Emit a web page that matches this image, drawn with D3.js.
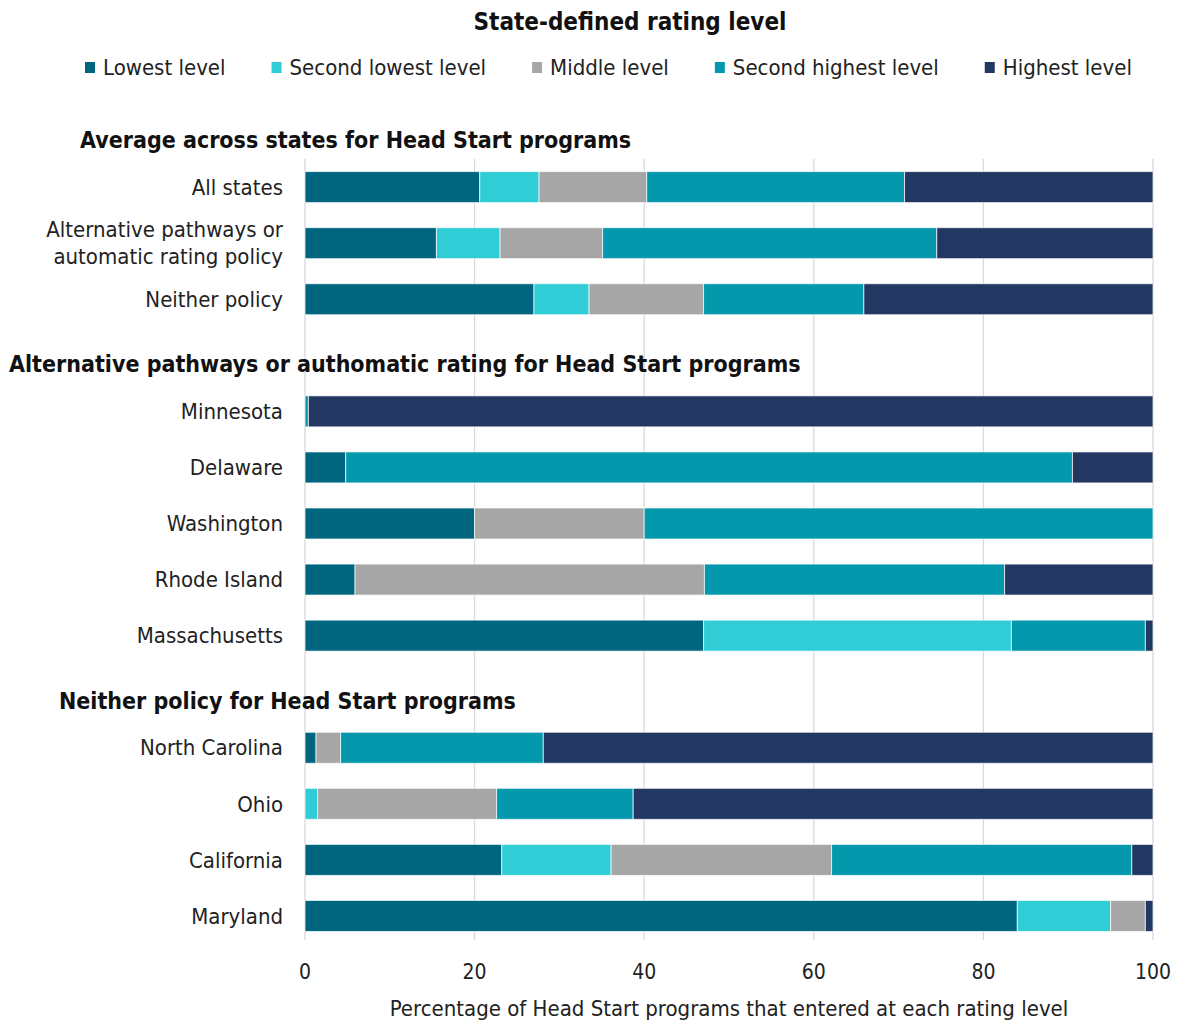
<!DOCTYPE html>
<html>
<head>
<meta charset="utf-8">
<script src="https://cdn.jsdelivr.net/npm/d3@7"></script>
<style>
  body { margin: 0; background: #fff; }
  svg text { font-family: "Liberation Sans Narrow", "DejaVu Sans Condensed", "Roboto Condensed", sans-serif; fill: #222; }
</style>
</head>
<body>
<div id="vis"></div>
<script>
// rating levels (stack order, left to right)
const levels = ["Lowest level", "Second lowest level", "Middle level", "Second highest level", "Highest level"]
const levelColors = ["#00667f", "#31cdd7", "#a6a6a6", "#0398ab", "#223863"]

// rows top to bottom, headers take a blank slot
const rows = ["h1", "All states", "Alternative pathways", "Neither policy",
  "h2", "Minnesota", "Delaware", "Washington", "Rhode Island", "Massachusetts",
  "h3", "North Carolina", "Ohio", "California", "Maryland"]

const headers = {
  h1: "Average across states for Head Start programs",
  h2: "Alternative pathways or authomatic rating for Head Start programs",
  h3: "Neither policy for Head Start programs"
}

// row labels (some wrap on two lines)
const rowLabels = {
  "Alternative pathways": ["Alternative pathways or", "automatic rating policy"]
}

// percentages per level, same order as levels
const allStates = [20.6, 7.0, 12.7, 30.4, 29.3]
const altPathways = [15.5, 7.5, 12.1, 39.4, 25.5]
const neitherPolicy = [27.0, 6.5, 13.5, 18.9, 34.1]
const minnesota = [0, 0, 0, 0.4, 99.6]
const delaware = [4.8, 0, 0, 85.7, 9.5]
const washington = [20, 0, 20, 60, 0]
const rhodeIsland = [5.9, 0, 41.2, 35.4, 17.5]
const massachusetts = [47.0, 36.3, 0, 15.8, 0.9]
const northCarolina = [1.3, 0, 2.9, 23.9, 71.9]
const ohio = [0, 1.5, 21.1, 16.1, 61.3]
const california = [23.2, 12.9, 26.0, 35.4, 2.5]
const maryland = [84.0, 11.0, 4.1, 0, 0.9]

const xTicks = [0, 20, 40, 60, 80, 100]

const data = [
  {name: "All states", values: allStates},
  {name: "Alternative pathways", values: altPathways},
  {name: "Neither policy", values: neitherPolicy},
  {name: "Minnesota", values: minnesota},
  {name: "Delaware", values: delaware},
  {name: "Washington", values: washington},
  {name: "Rhode Island", values: rhodeIsland},
  {name: "Massachusetts", values: massachusetts},
  {name: "North Carolina", values: northCarolina},
  {name: "Ohio", values: ohio},
  {name: "California", values: california},
  {name: "Maryland", values: maryland}
]

const width = 1182
const height = 1022

const svg = d3.select("#vis").append("svg")
  .attr("width", width)
  .attr("height", height)

// scales
const x = d3.scaleLinear().domain([0, 100]).range([305, 1153])
const y = d3.scaleBand()
  .domain(rows)
  .range([103, 944])
  .paddingInner(0.447)
  .paddingOuter(0.2235)

const color = d3.scaleOrdinal().domain(levels).range(levelColors)

// gridlines
svg.append("g")
  .selectAll("line")
  .data(xTicks)
  .enter()
  .append("line")
  .attr("x1", d => x(d))
  .attr("x2", d => x(d))
  .attr("y1", 159)
  .attr("y2", 940)
  .attr("stroke", "#d9d9d9")
  .attr("stroke-width", 1.3)

// build stacked segments
const stack = d3.stack()
  .keys(d3.range(levels.length))
  .value((d, k) => d.values[k])
const series = stack(data)

svg.append("g")
  .selectAll("g")
  .data(series)
  .enter()
  .append("g")
  .attr("fill", d => levelColors[d.key])
  .selectAll("rect")
  .data(d => d.filter(s => s[1] - s[0] > 0))
  .enter()
  .append("rect")
  .attr("x", d => x(d[0]))
  .attr("y", d => y(d.data.name))
  .attr("width", d => x(d[1]) - x(d[0]))
  .attr("height", y.bandwidth())
  .attr("stroke", "#ffffff")
  .attr("stroke-width", 1)
  .attr("stroke-opacity", 0.7)

// row labels
const labelG = svg.append("g")
data.forEach(d => {
  const lines = rowLabels[d.name] || [d.name]
  const cy = y(d.name) + y.bandwidth() / 2
  const t = labelG.append("text")
    .attr("x", 283)
    .attr("text-anchor", "end")
    .style("font-size", "22px")
  lines.forEach((ln, i) => {
    t.append("tspan")
      .attr("x", 283)
      .attr("y", cy + (i - (lines.length - 1) / 2) * 27)
      .attr("dy", "0.35em")
      .text(ln)
  })
})

// section headers
const headerX = {h1: 80, h2: 9, h3: 59}
Object.keys(headers).forEach(k => {
  svg.append("text")
    .attr("x", headerX[k])
    .attr("y", y(k) + y.bandwidth() / 2 + 9)
    .attr("dy", "0.35em")
    .style("font-size", "23px")
    .style("font-weight", "bold")
    .style("fill", "#111")
    .text(headers[k])
})

// x axis tick labels
svg.append("g")
  .selectAll("text")
  .data(xTicks)
  .enter()
  .append("text")
  .attr("x", d => x(d))
  .attr("y", 972)
  .attr("dy", "0.35em")
  .attr("text-anchor", "middle")
  .style("font-size", "21px")
  .text(d => d)

svg.append("text")
  .attr("x", (x(0) + x(100)) / 2)
  .attr("y", 1008)
  .attr("dy", "0.35em")
  .attr("text-anchor", "middle")
  .style("font-size", "22px")
  .text("Percentage of Head Start programs that entered at each rating level")

// title
svg.append("text")
  .attr("x", 630)
  .attr("y", 22)
  .attr("dy", "0.35em")
  .attr("text-anchor", "middle")
  .style("font-size", "24px")
  .style("font-weight", "bold")
  .style("fill", "#111")
  .text("State-defined rating level")

// legend
const legend = svg.append("g")
let lx = 85
levels.forEach((lv, i) => {
  legend.append("rect")
    .attr("x", lx)
    .attr("y", 62)
    .attr("width", 10)
    .attr("height", 11)
    .attr("fill", color(lv))
  const t = legend.append("text")
    .attr("x", lx + 18)
    .attr("y", 67)
    .attr("dy", "0.35em")
    .style("font-size", "22px")
    .text(lv)
  lx += 18 + t.node().getComputedTextLength() + 46
})
</script>
</body>
</html>
